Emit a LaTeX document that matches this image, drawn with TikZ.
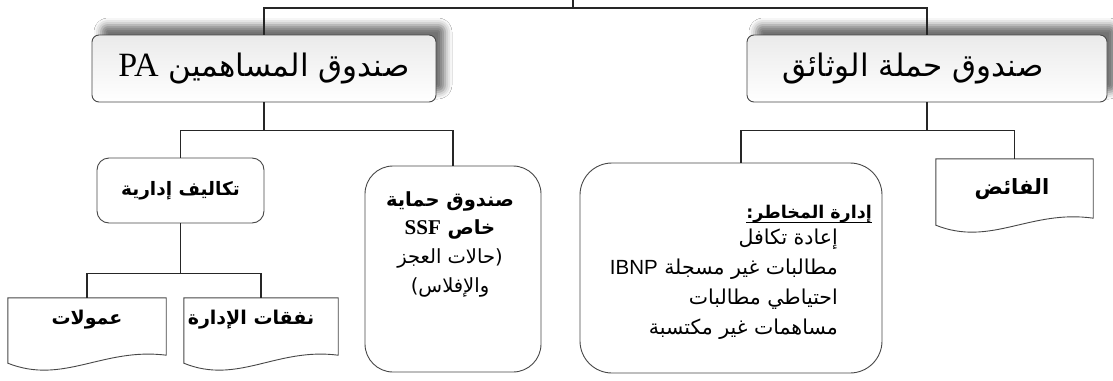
\documentclass[tikz,border=0pt]{standalone}
\usepackage{fontspec}
\usetikzlibrary{calc,shadows.blur}
\TeXXeTstate=1
\newfontfamily\arabicfont[Script=Arabic]{DejaVu Sans}
\newfontfamily\latserif{Liberation Serif}
\newfontfamily\latsans{Liberation Sans}
\newcommand{\fs}[1]{\fontsize{#1}{#1}\selectfont}
\newcommand{\docoutline}[2]{%
  \draw[boxline] (#1.south west) -- (#1.north west) -- (#1.north east) -- ([yshift=#2]#1.south east)
    .. controls ($(#1.south west)!0.6!(#1.south east)+(0,-16)$) and ($(#1.south west)!0.35!(#1.south east)+(0,22)$) .. (#1.south west) -- cycle;}
\begin{document}
\begin{tikzpicture}[x=1pt,y=-1pt,
  conn/.style={draw=black!85, line width=1.1pt},
  boxline/.style={draw=black!72, line width=0.9pt},
  mainbox/.style={boxline, rounded corners=7pt, shading=axis, top color=black!8, middle color=white, bottom color=white,
    blur shadow={shadow xshift=9pt, shadow yshift=10pt, shadow blur radius=7pt, shadow opacity=55},
    inner sep=0pt, font=\arabicfont\fs{31}},
  rbox/.style={boxline, fill=white, inner sep=0pt},
  docbox/.style={draw=none, inner sep=0pt},
  txt/.style={inner sep=0pt, font=\arabicfont\fs{20.5}},
  btxt/.style={inner sep=0pt, font=\arabicfont\bfseries\fs{19}}]
\useasboundingbox (0,0) rectangle (1113,380);
\fill[white] (0,0) rectangle (1113,380);

% main boxes
\node[mainbox, minimum width=344pt, minimum height=67pt] (pa) at (264,68.5)
  {\beginR صندوق المساهمين \beginL{\latserif\fs{34}PA}\endL\endR};
\node[mainbox, minimum width=360pt, minimum height=67pt] (ph) at (927,68.5)
  {\hspace*{-28pt}\beginR صندوق حملة الوثائق\endR};

% second level
\node[rbox, rounded corners=12pt, minimum width=167pt, minimum height=65pt, font=\arabicfont\bfseries\fs{18.5}] (tk) at (180.5,190.5)
  {\raisebox{3pt}{\beginR تكاليف إدارية\endR}};
\node[rbox, rounded corners=28pt, minimum width=176pt, minimum height=206pt] (ss) at (453,269) {};
\node[rbox, rounded corners=32pt, minimum width=302pt, minimum height=210pt] (rk) at (731,268) {};
\node[docbox, minimum width=157pt, minimum height=66pt] (fa) at (1014.5,192) {};
\docoutline{fa}{7pt}

% third level
\node[docbox, minimum width=158pt, minimum height=65pt] (om) at (87,330.5) {};
\node[docbox, minimum width=154pt, minimum height=65pt] (nf) at (261,330.5) {};
\docoutline{om}{8pt}
\docoutline{nf}{8pt}

% texts of document boxes
\node[btxt, anchor=base] (omt) at (87,324) {\beginR عمولات\endR};
\node[btxt, anchor=base] (nft) at (251,324) {\beginR نفقات الإدارة\endR};
\node[btxt, anchor=base, font=\arabicfont\bfseries\fs{21}] (fat) at (1012,194) {\beginR الفائض\endR};

% SSF texts
\node[btxt, anchor=base, font=\arabicfont\bfseries\fs{19.5}] (s1) at (450,206) {\beginR صندوق حماية\endR};
\node[btxt, anchor=base, font=\arabicfont\bfseries\fs{19.5}] (s2) at (450,234) {\beginR خاص \beginL{\latserif\fs{21}SSF}\endL\endR};
\node[txt, anchor=base, font=\arabicfont\fs{19.5}] (s3) at (450,263) {\beginR (حالات العجز\endR};
\node[txt, anchor=base, font=\arabicfont\fs{19.5}] (s4) at (450,292) {\beginR والإفلاس)\endR};

% risk texts
\node[btxt, anchor=base east, font=\arabicfont\bfseries\fs{17.5}] (r0) at (872,218) {\beginR إدارة المخاطر:\endR};
\draw[line width=0.8pt] ([yshift=-4pt]r0.base west) -- ([yshift=-4pt]r0.base east);
\node[txt, anchor=base east] (r1) at (838,244) {\beginR إعادة تكافل\endR};
\node[txt, anchor=base east] (r2) at (838,274) {\beginR مطالبات غير مسجلة \beginL{\latsans IBNP}\endL\endR};
\node[txt, anchor=base east] (r3) at (838,304) {\beginR احتياطي مطالبات\endR};
\node[txt, anchor=base east] (r4) at (838,334) {\beginR مساهمات غير مكتسبة\endR};

% connectors
\coordinate (up) at (573,0);
\coordinate (j) at (573,8);
\draw[conn] (up) -- (j);
\draw[conn] (pa.north) |- (j) -| (ph.north);
\draw[conn] (pa.south) -- ++(0,29);
\draw[conn] (tk.north) -- ++(0,-27) -| (ss.north);
\draw[conn] (tk.south) -- ++(0,51);
\draw[conn] (om.north) -- ++(0,-24) -| (nf.north);
\draw[conn] (ph.south) -- ++(0,29);
\draw[conn] ([xshift=10pt]rk.north) -- ++(0,-32) -| (fa.north);
\end{tikzpicture}
\end{document}
